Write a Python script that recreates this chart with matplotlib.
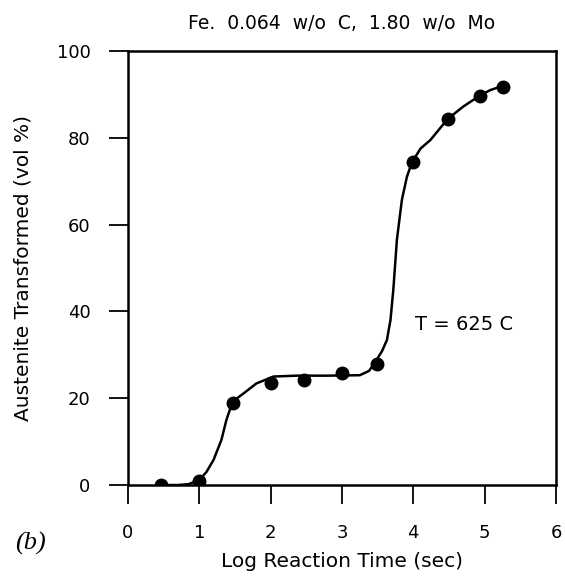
"""
austenite transformed vs log reaction time, Fe-C-Mo at 625 C.
"""
import matplotlib

matplotlib.use("Agg")
import matplotlib.pyplot as plt

plt.rcParams["font.family"] = ["DejaVu Sans"]

# measured points
log_time = [0.47, 1.0, 1.47, 2.0, 2.47, 3.0, 3.49, 4.0, 4.48, 4.93, 5.26]
transformed = [0.0, 1.0, 18.9, 23.4, 24.2, 25.9, 28.0, 74.4, 84.3, 89.7, 91.8]

# hand-drawn fit curve
curve_x = [0.4, 0.7, 0.85, 1.0, 1.1, 1.2, 1.31, 1.38, 1.45, 1.53, 1.62, 1.8,
           2.04, 2.37, 2.8, 3.25, 3.38, 3.46, 3.56, 3.63, 3.68, 3.72, 3.77,
           3.84, 3.91, 3.98, 4.1, 4.24, 4.48, 4.70, 4.93, 5.08, 5.26]
curve_y = [0.0, 0.0, 0.2, 1.2, 3.0, 5.8, 10.4, 15.0, 18.4, 20.0, 21.1, 23.4,
           25.0, 25.2, 25.2, 25.3, 26.3, 28.2, 30.8, 33.4, 38.0, 45.0, 56.5,
           65.7, 71.0, 74.3, 77.5, 79.5, 84.3, 87.2, 89.7, 91.0, 92.0]

xticks = [0, 1, 2, 3, 4, 5, 6]
yticks = [0, 20, 40, 60, 80, 100]

fig = plt.figure(figsize=(5.65, 5.79), dpi=100)
ax = fig.add_axes([0.2265, 0.1623, 0.7575, 0.7496])

ax.plot(curve_x, curve_y, color="black", linewidth=1.8,
        solid_joinstyle="round", solid_capstyle="round")
ax.plot(log_time, transformed, "o", color="black", markersize=9)

ax.set_xlim(0, 6)
ax.set_ylim(0, 100)
ax.set_xticks(xticks)
ax.set_yticks(yticks)
ax.tick_params(direction="out", length=14, width=1.3, labelsize=13)
ax.tick_params(axis="x", pad=14)
ax.tick_params(axis="y", pad=13)
for spine in ax.spines.values():
    spine.set_linewidth(1.8)

ax.set_xlabel("Log Reaction Time (sec)", fontsize=14.5)
ax.set_ylabel("Austenite Transformed (vol %)", fontsize=14.5)
ax.xaxis.set_label_coords(0.5, -0.155)
ax.yaxis.set_label_coords(-0.222, 0.5)

ax.set_title("Fe.  0.064  w/o  C,  1.80  w/o  Mo", fontsize=13.5, pad=16)
ax.text(4.03, 36.9, "T = 625 C", fontsize=14, va="center", ha="left")
fig.text(0.027, 0.062, "(b)", fontsize=19, style="italic",
         family=["Liberation Serif", "DejaVu Serif"], va="center")

fig.savefig("out.png", dpi=100)
